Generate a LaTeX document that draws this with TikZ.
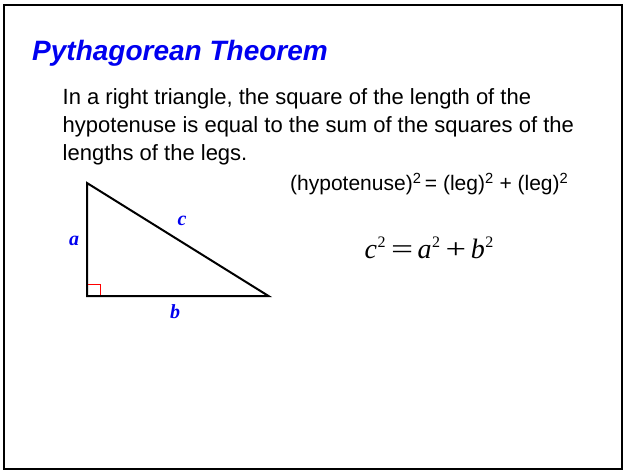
\documentclass[tikz,border=0pt]{standalone}
\usepackage{graphicx}
\usepackage{fontspec}
\setmainfont{Liberation Sans}
\newfontfamily\timesf{Liberation Serif}
\definecolor{titleblue}{RGB}{0,0,240}
\newcommand{\sq}{\raisebox{11.5pt}{\fontsize{16}{18}\selectfont\upshape 2}}
\begin{document}
\begin{tikzpicture}[x=1pt,y=-1pt,
  txt/.style={anchor=base west,inner sep=0pt,font=\fontsize{22}{26}\selectfont},
  lbl/.style={inner sep=0pt,text=titleblue,font=\timesf\bfseries\itshape\fontsize{20}{24}\selectfont},
  edge/.style={line width=2pt,line join=miter}]
\useasboundingbox (0,0) rectangle (624,471);
\fill[white] (0,0) rectangle (624,471);
\draw[line width=2pt] (4,5) rectangle (622,469);
\node[anchor=base west,inner sep=0pt,text=titleblue,font=\fontsize{28}{32}\selectfont\bfseries\itshape] (title) at (32,60.5) {Pythagorean Theorem};
\node[txt] (l1) at (62.5,104.3) {In a right triangle, the square of the length of the};
\node[txt] (l2) at (62.5,132) {hypotenuse is equal to the sum of the squares of the};
\node[txt] (l3) at (62.5,160) {lengths of the legs.};
\node[txt,font=\fontsize{21}{24}\selectfont] (words) at (290,190.7) {(hypotenuse)\textsuperscript{2}\,= (leg)\textsuperscript{2} + (leg)\textsuperscript{2}};
\node[anchor=base west,inner sep=0pt,font=\timesf\fontsize{28}{30}\selectfont] (eq) at (364.5,258.5) {\itshape c\kern0.5pt\sq\hspace{5.5pt}\upshape\scalebox{1.4}[1]{=}\hspace{4.5pt}\itshape a\kern0.5pt\sq\hspace{5.5pt}\upshape\scalebox{1.3}[1]{+}\hspace{4.5pt}\itshape b\kern0.5pt\sq};
\coordinate (A) at (87,183);
\coordinate (C) at (87,296);
\coordinate (B) at (268.5,296);
\draw[edge] (A) -- (C) -- (B) -- cycle;
\draw[red,line width=1pt] (88,284.5) -| (100.5,295);
\node[lbl] (a) at (74,241) {a};
\node[lbl] (c) at (182,221) {c};
\node[lbl] (b) at (175,312) {b};
\end{tikzpicture}
\end{document}
